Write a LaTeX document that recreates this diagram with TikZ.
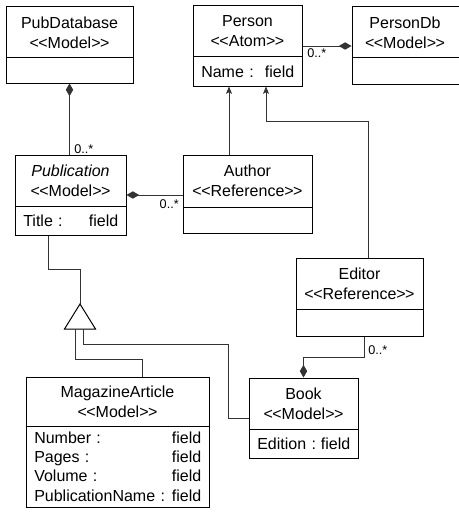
\documentclass[tikz,border=0pt]{standalone}
\usepackage{fontspec}
\setmainfont{Liberation Sans}
\usetikzlibrary{arrows.meta,fit}
\newcommand{\stereo}[1]{<\kern-0.4pt<#1>\kern-0.4pt>}
\tikzset{
  classbox/.style={draw, line width=0.75pt, inner sep=0pt},
  divider/.style={line width=0.75pt},
  classname/.style={align=center, inner sep=0pt, font=\fontsize{12}{15}\selectfont},
  attrs/.style={anchor=west, inner sep=0pt, font=\fontsize{12}{14.5}\selectfont},
  mult/.style={inner sep=0pt, font=\fontsize{9.5}{11}\selectfont},
  conn/.style={draw, line width=0.6pt, black!80},
  comp/.style={conn, -{Diamond[length=9.5pt,width=5.5pt]}},
  nav/.style={conn, -{Stealth[length=5.5pt,width=4.5pt,inset=1.2pt]}},
}
\begin{document}
\begin{tikzpicture}[x=0.75pt,y=-0.75pt]
\useasboundingbox (0,0) rectangle (458,517);
% class boxes
\node[classbox, fit={(6,7) (133,83)}] (pubdb) {};
\node[classbox, fit={(193,6) (302,86)}] (person) {};
\node[classbox, fit={(352,7) (470,84)}] (persondb) {};
\node[classbox, fit={(15,155) (126,235)}] (pub) {};
\node[classbox, fit={(183,155) (312,233)}] (author) {};
\node[classbox, fit={(296,258) (423,336)}] (editor) {};
\node[classbox, fit={(249,378) (358,458)}] (book) {};
\node[classbox, fit={(26,377) (209,507)}] (magart) {};
\foreach \xa/\y/\xb in {6/58/133, 193/57/302, 352/58/470, 15/206/126,
    183/207/312, 296/309/423, 249/429/358, 26/426/209}
  \draw[divider] (\xa,\y) -- (\xb,\y);
% names and stereotypes
\node[classname] (pubdbname) at (69.5,32.5) {PubDatabase\\\stereo{Model}};
\node[classname] (personname) at (247.5,31.5) {Person\\\stereo{Atom}};
\node[classname] (persondbname) at (405,32.5) {PersonDb\\\stereo{Model}};
\node[classname] (pubname) at (70.5,180.5) {\textit{Publication}\\\stereo{Model}};
\node[classname] (authorname) at (247.5,181) {Author\\\stereo{Reference}};
\node[classname] (editorname) at (359.5,283.5) {Editor\\\stereo{Reference}};
\node[classname] (bookname) at (303.5,403.5) {Book\\\stereo{Model}};
\node[classname] (magartname) at (117.5,401.5) {MagazineArticle\\\stereo{Model}};
% attributes
\node[attrs, text width=69.75pt] (personattr) at (201,71.5) {Name :\hfill field};
\node[attrs, text width=71.25pt] (pubattr) at (23,220.5) {Title :\hfill field};
\node[attrs, text width=69.75pt] (bookattr) at (257,443.5) {Edition :\hfill field};
\node[attrs, text width=125.25pt] (magartattr) at (34,466.5)
  {Number :\hfill field\\Pages :\hfill field\\Volume :\hfill field\\PublicationName :\hfill field};
% connectors
\coordinate (authorx) at (229,0);
\coordinate (editorx) at (368,0);
\coordinate (personbend) at (266,121);
\coordinate (pubx) at (48,0);
\coordinate (gtop) at (80,304);
\coordinate (gbase) at (80,329);
\coordinate (magx) at (75,0);
\coordinate (magbend) at (142,359);
\coordinate (bookx) at (83,0);
\coordinate (bookbend) at (228,344);
\coordinate (editorbx) at (364,0);
\draw[comp] (pubdb.south |- pub.north) -- (pubdb.south);
\draw[comp] (person.east) -- (person.east -| persondb.west);
\draw[comp] (pub.east -| author.west) -- (pub.east);
\draw[comp] (editor.south -| editorbx) -- ++(0,21) -| (book.north);
\draw[nav] (author.north -| authorx) -- (person.south -| authorx);
\draw[nav] (editor.north -| editorx) |- (personbend) -- (person.south -| personbend);
\draw[conn] (pub.south -| pubx) -- ++(0,34) -| (gtop);
\draw[divider] (gtop) -- ++(15.5,25) -- ++(-31,0) -- cycle;
\draw[conn] (gbase -| magx) |- (magbend) -- (magart.north -| magbend);
\draw[conn] (gbase -| bookx) |- (bookbend) |- (book.west);
% multiplicities
\node[mult, anchor=south west] (pubdbmult) at (74,154) {0..*};
\node[mult, anchor=north west] (persondbmult) at (307,48) {0..*};
\node[mult, anchor=north east] (authormult) at (179,199) {0..*};
\node[mult, anchor=north west] (editormult) at (368,345) {0..*};
\end{tikzpicture}
\end{document}
